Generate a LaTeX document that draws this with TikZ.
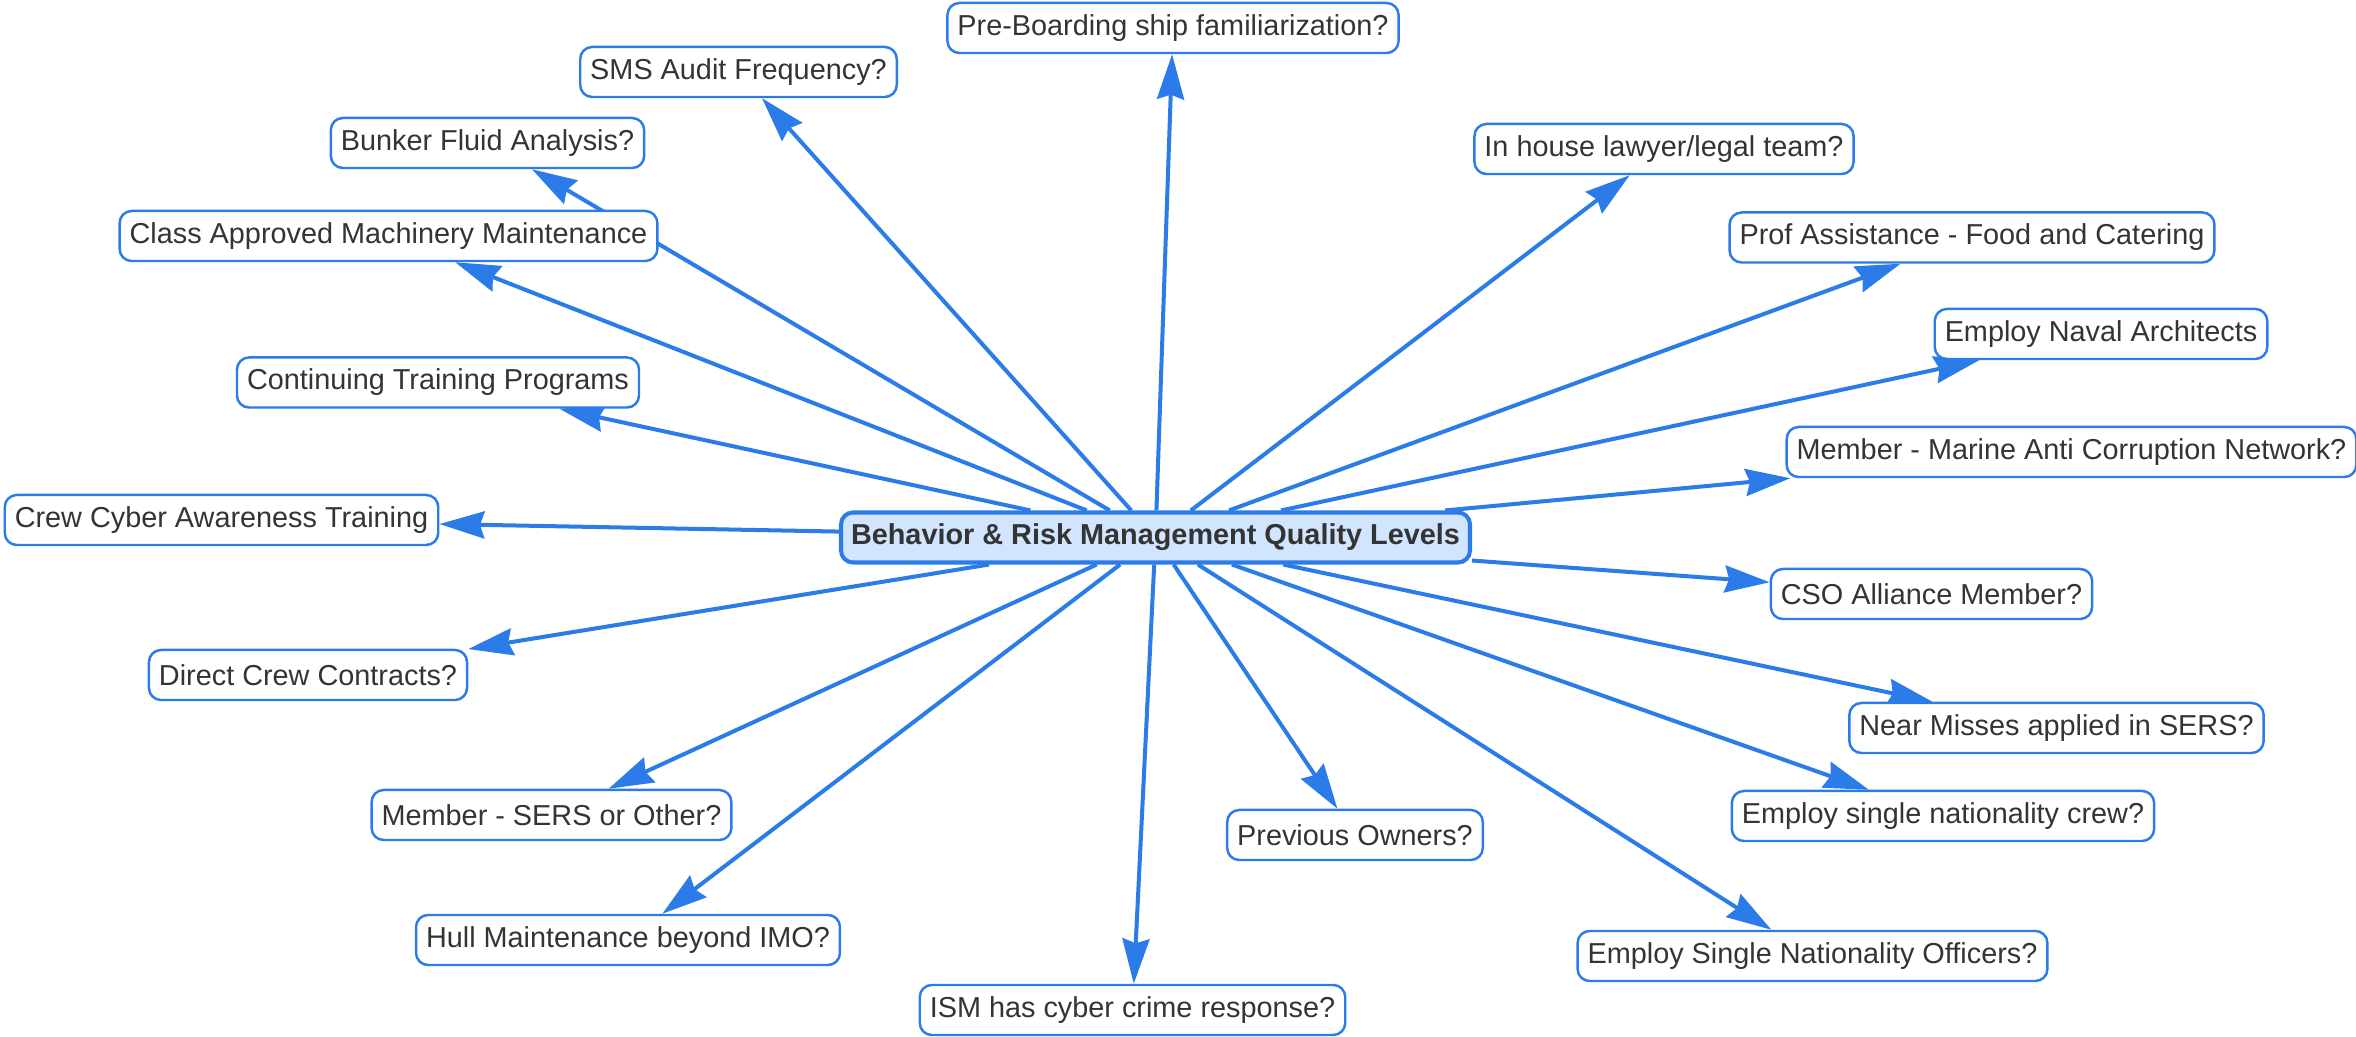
\documentclass[tikz,border=0pt]{standalone}
\usepackage{fontspec}
\setmainfont{Liberation Sans}
\usetikzlibrary{arrows.meta,backgrounds}
\definecolor{visblue}{HTML}{2B7CE9}
\definecolor{vislight}{HTML}{D2E5FF}
\definecolor{vistext}{HTML}{343434}

\begin{document}
\begin{tikzpicture}[x=0.01cm,y=-0.01cm,
  topic/.style={draw=visblue,line width=0.7pt,fill=white,rounded corners=0.12cm,inner xsep=0.1cm,inner ysep=0pt,minimum height=0.5cm,text=vistext,font=\fontsize{8.2}{9.8}\selectfont},
  root/.style={topic,fill=vislight,line width=1.15pt,font=\fontsize{8.2}{9.8}\selectfont\bfseries},
  link/.style={draw=visblue,line width=1.14pt,-{Stealth[length=0.45cm,width=0.27cm,inset=0.045cm]}}]
  \useasboundingbox (0,0) rectangle (2356,1037);
  \node [root] (root) at (1155.5,537.5) {Behavior \& Risk Management Quality Levels};
  % left side
  \node [topic] (sms) at (738.5,72) {SMS Audit Frequency?};
  \node [topic] (bunker) at (487.5,143) {Bunker Fluid Analysis?};
  \node [topic] (class) at (388.5,236) {Class Approved Machinery Maintenance};
  \node [topic] (training) at (438,382.5) {Continuing Training Programs};
  \node [topic] (cyber) at (221.5,520) {Crew Cyber Awareness Training};
  \node [topic] (contracts) at (308,675) {Direct Crew Contracts?};
  \node [topic] (sers) at (551.5,815) {Member - SERS or Other?};
  \node [topic] (hull) at (628,940) {Hull Maintenance beyond IMO?};
  % bottom
  \node [topic] (ism) at (1132.5,1010) {ISM has cyber crime response?};
  \node [topic] (owners) at (1355,835) {Previous Owners?};
  % right side
  \node [topic] (officers) at (1812.5,956) {Employ Single Nationality Officers?};
  \node [topic] (crew) at (1943,816) {Employ single nationality crew?};
  \node [topic] (misses) at (2056.5,728) {Near Misses applied in SERS?};
  \node [topic] (cso) at (1931.5,594) {CSO Alliance Member?};
  \node [topic] (macn) at (2071.5,452) {Member - Marine Anti Corruption Network?};
  \node [topic] (naval) at (2101,334) {Employ Naval Architects};
  \node [topic] (catering) at (1972,237.5) {Prof Assistance - Food and Catering};
  \node [topic] (lawyer) at (1664,149) {In house lawyer/legal team?};
  \node [topic] (boarding) at (1173,28) {Pre-Boarding ship familiarization?};
  \begin{scope}[on background layer]
    \foreach \t in {sms,bunker,class,training,cyber,contracts,sers,hull,ism,owners,officers,crew,misses,cso,macn,naval,catering,lawyer,boarding}
      \draw [link] (root) -- (\t);
  \end{scope}
\end{tikzpicture}
\end{document}
